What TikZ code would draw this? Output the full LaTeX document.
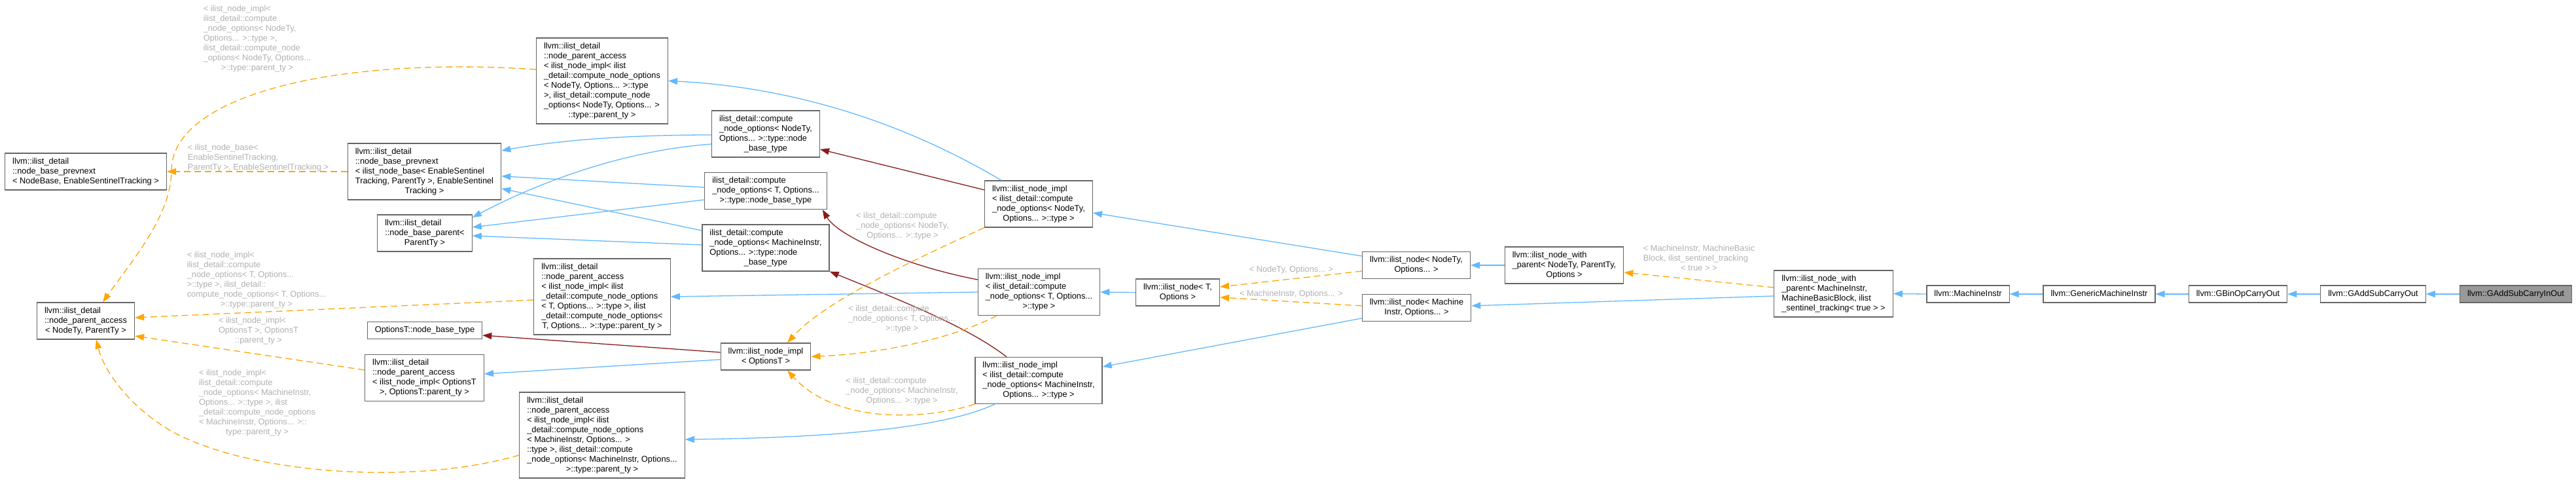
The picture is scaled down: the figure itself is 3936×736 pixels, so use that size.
\documentclass[tikz,border=0pt]{standalone}
\usepackage{fontspec}
\setmainfont{Liberation Sans}
\usetikzlibrary{arrows.meta}
\definecolor{edgeblue}{HTML}{63B8FF}
\definecolor{edgered}{HTML}{8B1A1A}
\definecolor{edgeorange}{HTML}{FFA500}
\definecolor{boxgray}{HTML}{666666}
\definecolor{lblgray}{HTML}{B0B0B0}
\definecolor{focusgray}{HTML}{999999}
\newcommand\nfnt{\fontsize{12.8pt}{15pt}\selectfont}
\newcommand\dxl[1]{\begin{tabular}{@{}l@{}}#1\end{tabular}}
\newcommand\dxc[1]{\multicolumn{1}{@{}c@{}}{#1}}
\tikzset{
  box/.style={draw=boxgray, line width=1.2pt, fill=white, inner xsep=11.5pt, inner ysep=5.5pt, font=\nfnt, text=black},
  focus/.style={box, fill=focusgray},
  lbl/.style={text=lblgray, inner sep=0pt, font=\nfnt},
  inh/.style={draw=edgeblue, line width=1.3pt, -{Triangle[length=14pt,width=10pt]}},
  priv/.style={draw=edgered, line width=1.3pt, -{Triangle[length=14pt,width=10pt]}},
  tmpl/.style={draw=edgeorange, line width=1.3pt, dash pattern=on 10pt off 6pt, -{Triangle[length=14pt,width=10pt]}},
}
\begin{document}
\begin{tikzpicture}[x=1pt,y=-1pt]
\useasboundingbox (0,0) rectangle (3936,736);
% nodes
\node[box] (A) at (131,262) {\dxl{llvm::ilist\_detail\\::node\_base\_prevnext\\\dxc{< NodeBase, EnableSentinelTracking >}}};
\node[box] (B) at (131,490) {\dxl{llvm::ilist\_detail\\::node\_parent\_access\\\dxc{< NodeTy, ParentTy >}}};
\node[box] (C) at (648.5,262) {\dxl{llvm::ilist\_detail\\::node\_base\_prevnext\\< ilist\_node\_base< EnableSentinel\\Tracking, ParentTy >, EnableSentinel\\\dxc{Tracking >}}};
\node[box] (D) at (649,356) {\dxl{llvm::ilist\_detail\\::node\_base\_parent<\\\dxc{ParentTy >}}};
\node[box] (E) at (920,123.5) {\dxl{llvm::ilist\_detail\\::node\_parent\_access\\< ilist\_node\_impl< ilist\\\_detail::compute\_node\_options\\< NodeTy, Options... >::type\\ >, ilist\_detail::compute\_node\\\_options< NodeTy, Options... >\\\dxc{::type::parent\_ty >}}};
\node[box] (F) at (920,453) {\dxl{llvm::ilist\_detail\\::node\_parent\_access\\< ilist\_node\_impl< ilist\\\_detail::compute\_node\_options\\< T, Options... >::type >, ilist\\\_detail::compute\_node\_options<\\\dxc{T, Options... >::type::parent\_ty >}}};
\node[box] (G) at (649,504.5) {\dxl{OptionsT::node\_base\_type}};
\node[box] (H) at (648.5,577) {\dxl{llvm::ilist\_detail\\::node\_parent\_access\\< ilist\_node\_impl< OptionsT\\\dxc{>, OptionsT::parent\_ty >}}};
\node[box] (I) at (920,664.5) {\dxl{llvm::ilist\_detail\\::node\_parent\_access\\< ilist\_node\_impl< ilist\\\_detail::compute\_node\_options\\< MachineInstr, Options... >\\::type >, ilist\_detail::compute\\\_node\_options< MachineInstr, Options...\\\dxc{>::type::parent\_ty >}}};
\node[box] (J) at (1170,204.5) {\dxl{ilist\_detail::compute\\\_node\_options< NodeTy,\\Options... >::type::node\\\dxc{\_base\_type}}};
\node[box] (K) at (1170,291.5) {\dxl{ilist\_detail::compute\\\_node\_options< T, Options...\\\dxc{>::type::node\_base\_type}}};
\node[box] (L) at (1170,378.5) {\dxl{ilist\_detail::compute\\\_node\_options< MachineInstr,\\Options... >::type::node\\\dxc{\_base\_type}}};
\node[box] (M) at (1170,544.5) {\dxl{llvm::ilist\_node\_impl\\\dxc{< OptionsT >}}};
\node[box] (N) at (1587,311.5) {\dxl{llvm::ilist\_node\_impl\\< ilist\_detail::compute\\\_node\_options< NodeTy,\\\dxc{Options... >::type >}}};
\node[box] (O) at (1587.5,446) {\dxl{llvm::ilist\_node\_impl\\< ilist\_detail::compute\\\_node\_options< T, Options...\\\dxc{>::type >}}};
\node[box] (P) at (1587,581) {\dxl{llvm::ilist\_node\_impl\\< ilist\_detail::compute\\\_node\_options< MachineInstr,\\\dxc{Options... >::type >}}};
\node[box] (Q) at (1799.5,446.5) {\dxl{llvm::ilist\_node< T,\\\dxc{Options >}}};
\node[box] (R) at (2164,405) {\dxl{llvm::ilist\_node< NodeTy,\\\dxc{Options... >}}};
\node[box] (S) at (2164.5,470) {\dxl{llvm::ilist\_node< Machine\\\dxc{Instr, Options... >}}};
\node[box] (T) at (2390,405) {\dxl{llvm::ilist\_node\_with\\\_parent< NodeTy, ParentTy,\\\dxc{Options >}}};
\node[box] (U) at (2801.5,448.5) {\dxl{llvm::ilist\_node\_with\\\_parent< MachineInstr,\\MachineBasicBlock, ilist\\\dxc{\_sentinel\_tracking< true > >}}};
\node[box] (V) at (3007,449) {\dxl{llvm::MachineInstr}};
\node[box] (W) at (3207.5,449) {\dxl{llvm::GenericMachineInstr}};
\node[box] (X) at (3419.5,449) {\dxl{llvm::GBinOpCarryOut}};
\node[box] (Y) at (3626,449) {\dxl{llvm::GAddSubCarryOut}};
\node[focus] (Z) at (3844,449) {\dxl{llvm::GAddSubCarryInOut}};
% edges
\draw[tmpl] (C.west) -- (A.east);
\draw[tmpl] ([yshift=17.5pt]E.west) .. controls (500,85) and (262,150) .. (262,260) .. controls (262,330) and (200,400) .. ([xshift=26pt]B.north);
\draw[tmpl] ([yshift=-5pt]F.west) -- ([yshift=5pt]B.east);
\draw[tmpl] ([yshift=12pt]H.west) -- ([yshift=-23pt]B.east);
\draw[tmpl] ([yshift=-30.5pt]I.west) .. controls (620,745) and (360,720) .. (253,653) .. controls (200,620) and (160,570) .. ([xshift=16pt]B.south);
\draw[inh] ([yshift=-1.5pt]J.west) .. controls (950,206) and (850,215) .. ([yshift=32pt]C.east);
\draw[inh] ([yshift=-15.5pt]J.west) .. controls (950,230) and (820,280) .. ([yshift=24pt]D.east);
\draw[inh] ([yshift=5.5pt]K.west) -- ([yshift=-7pt]C.east);
\draw[inh] ([yshift=-13.5pt]K.west) -- ([yshift=9pt]D.east);
\draw[inh] ([yshift=26.5pt]L.west) -- ([yshift=-26pt]C.east);
\draw[inh] ([yshift=4.5pt]L.west) -- ([yshift=-4pt]D.east);
\draw[inh] ([xshift=-57pt]N.north) .. controls (1420,210) and (1250,135) .. (E.east);
\draw[priv] ([yshift=21.5pt]N.west) -- ([yshift=-23.5pt]J.east);
\draw[priv] ([yshift=19pt]O.west) .. controls (1380,405) and (1280,360) .. ([xshift=-7pt]K.south east);
\draw[priv] ([xshift=-49pt]P.north) .. controls (1480,500) and (1380,460) .. (L.south east);
\draw[priv] ([yshift=6.5pt]M.west) -- ([yshift=-7.5pt]G.east);
\draw[inh] ([yshift=-4.5pt]M.west) -- ([yshift=6pt]H.east);
\draw[tmpl] (N.south west) .. controls (1400,395) and (1260,460) .. ([xshift=33pt]M.north);
\draw[tmpl] ([xshift=-64.5pt]O.south) .. controls (1460,515) and (1350,540) .. (M.east);
\draw[tmpl] (P.south west) .. controls (1420,640) and (1280,650) .. ([xshift=33pt]M.south);
\draw[inh] (O.west) -- (F.east);
\draw[inh] ([xshift=-67pt]P.south) .. controls (1450,650) and (1300,668) .. ([yshift=-6.5pt]I.east);
\draw[inh] (Q.west) -- (O.east);
\draw[inh] ([yshift=14pt]R.west) -- ([yshift=-13.5pt]N.east);
\draw[tmpl] ([yshift=-9pt]R.west) -- ([yshift=8.5pt]Q.east);
\draw[tmpl] ([yshift=3pt]S.west) -- ([yshift=-7.5pt]Q.east);
\draw[inh] ([yshift=-16pt]S.west) -- ([yshift=21pt]P.east);
\draw[inh] (T.west) -- (R.east);
\draw[inh] ([yshift=-3.5pt]U.west) -- ([yshift=3pt]S.east);
\draw[tmpl] ([yshift=9.5pt]U.west) -- ([yshift=-11pt]T.east);
\draw[inh] (V.west) -- (U.east);
\draw[inh] (W.west) -- (V.east);
\draw[inh] (X.west) -- (W.east);
\draw[inh] (Y.west) -- (X.east);
\draw[inh] (Z.west) -- (Y.east);
% edge labels
\node[lbl] (lEB) at (393,59) {\dxl{< ilist\_node\_impl<\\ilist\_detail::compute\\\_node\_options< NodeTy,\\Options... >::type >,\\ilist\_detail::compute\_node\\\_options< NodeTy, Options...\\\dxc{>::type::parent\_ty >}}};
\node[lbl] (lCA) at (394.5,241) {\dxl{< ilist\_node\_base<\\EnableSentinelTracking,\\\dxc{ParentTy >, EnableSentinelTracking >}}};
\node[lbl] (lFB) at (392,427.5) {\dxl{< ilist\_node\_impl<\\ilist\_detail::compute\\\_node\_options< T, Options...\\>::type >, ilist\_detail::\\compute\_node\_options< T, Options...\\\dxc{>::type::parent\_ty >}}};
\node[lbl] (lHB) at (395,505) {\dxl{< ilist\_node\_impl<\\OptionsT >, OptionsT\\\dxc{::parent\_ty >}}};
\node[lbl] (lIB) at (393,615) {\dxl{< ilist\_node\_impl<\\ilist\_detail::compute\\\_node\_options< MachineInstr,\\Options... >::type >, ilist\\\_detail::compute\_node\_options\\< MachineInstr, Options... >::\\\dxc{type::parent\_ty >}}};
\node[lbl] (lNM) at (1379,345) {\dxl{< ilist\_detail::compute\\\_node\_options< NodeTy,\\\dxc{Options... >::type >}}};
\node[lbl] (lOM) at (1378,487) {\dxl{< ilist\_detail::compute\\\_node\_options< T, Options...\\\dxc{>::type >}}};
\node[lbl] (lPM) at (1378,597) {\dxl{< ilist\_detail::compute\\\_node\_options< MachineInstr,\\\dxc{Options... >::type >}}};
\node[lbl] (lRQ) at (1973,412) {\dxl{< NodeTy, Options... >}};
\node[lbl] (lSQ) at (1973,449) {\dxl{< MachineInstr, Options... >}};
\node[lbl] (lUT) at (2596,395) {\dxl{< MachineInstr, MachineBasic\\Block, ilist\_sentinel\_tracking\\\dxc{< true > >}}};
\end{tikzpicture}
\end{document}
